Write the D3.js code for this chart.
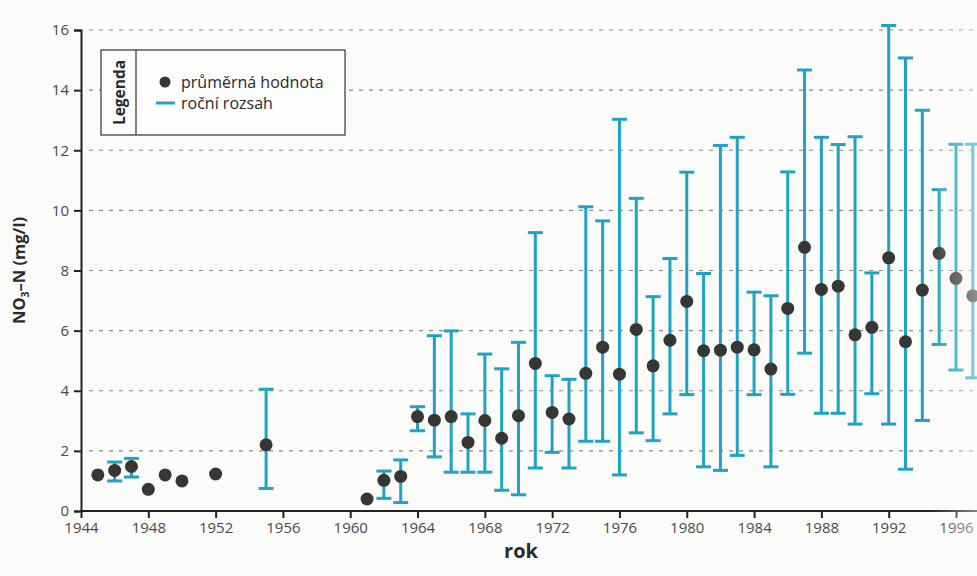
<!DOCTYPE html>
<html>
<head>
<meta charset="utf-8">
<script src="https://cdn.jsdelivr.net/npm/d3@7"></script>
<style>
  html, body { margin: 0; padding: 0; background: #fbfbfa; }
  svg { display: block; }
</style>
</head>
<body>
<svg id="chart" width="977" height="576"></svg>
<script>
// Annual mean nitrate nitrogen (NO3-N) and yearly min/max range
const meanYears = [1945, 1946, 1947, 1948, 1949, 1950, 1952, 1955, 1961, 1962, 1963,
  1964, 1965, 1966, 1967, 1968, 1969, 1970, 1971, 1972, 1973, 1974, 1975, 1976, 1977,
  1978, 1979, 1980, 1981, 1982, 1983, 1984, 1985, 1986, 1987, 1988, 1989, 1990, 1991,
  1992, 1993, 1994, 1995, 1996, 1997];
const meanValues = [1.2, 1.35, 1.48, 0.72, 1.2, 1.0, 1.23, 2.2, 0.4, 1.02, 1.15,
  3.14, 3.02, 3.14, 2.28, 3.01, 2.42, 3.17, 4.91, 3.28, 3.06, 4.58, 5.45, 4.55, 6.04,
  4.83, 5.68, 6.97, 5.33, 5.35, 5.45, 5.36, 4.72, 6.74, 8.77, 7.37, 7.48, 5.86, 6.11,
  8.42, 5.63, 7.35, 8.57, 7.74, 7.16];

const rangeYears = [1946, 1947, 1955, 1962, 1963, 1964, 1965, 1966, 1967, 1968, 1969,
  1970, 1971, 1972, 1973, 1974, 1975, 1976, 1977, 1978, 1979, 1980, 1981, 1982, 1983,
  1984, 1985, 1986, 1987, 1988, 1989, 1990, 1991, 1992, 1993, 1994, 1995, 1996, 1997];
const rangeMin = [1.0, 1.13, 0.75, 0.42, 0.28, 2.67, 1.8, 1.29, 1.29, 1.29, 0.69,
  0.54, 1.43, 1.95, 1.43, 2.32, 2.32, 1.2, 2.6, 2.34, 3.23, 3.87, 1.47, 1.35, 1.85,
  3.87, 1.47, 3.88, 5.25, 3.25, 3.25, 2.89, 3.9, 2.89, 1.39, 3.01, 5.54, 4.69, 4.43];
const rangeMax = [1.63, 1.75, 4.05, 1.33, 1.7, 3.47, 5.83, 5.99, 3.23, 5.22, 4.73,
  5.61, 9.26, 4.5, 4.38, 10.12, 9.65, 13.03, 10.4, 7.13, 8.4, 11.27, 7.9, 12.16, 12.43,
  7.28, 7.16, 11.28, 14.67, 12.43, 12.19, 12.45, 7.92, 16.15, 15.07, 13.33, 10.69, 12.2, 12.2];

const xTicks = [1944, 1948, 1952, 1956, 1960, 1964, 1968, 1972, 1976, 1980, 1984, 1988, 1992, 1996];
const yTicks = [0, 2, 4, 6, 8, 10, 12, 14, 16];

const legendItems = ["průměrná hodnota", "roční rozsah"];

const W = 977, H = 576;
const FONT = "'Open Sans', 'Noto Sans', sans-serif";
const BAR = "#1fa3c4";
const DOT = "#363636";

const svg = d3.select("#chart");

const x = d3.scaleLinear().domain([1944, 1996]).range([81, 956]);
const y = d3.scaleLinear().domain([0, 16]).range([511, 30]);

// dashed horizontal gridlines
svg.append("g")
  .selectAll("line")
  .data(yTicks.filter(d => d > 0))
  .join("line")
  .attr("x1", x(1944) + 8).attr("x2", W)
  .attr("y1", d => y(d)).attr("y2", d => y(d))
  .attr("stroke", "#8a8a8a")
  .attr("stroke-width", 1.2)
  .attr("stroke-dasharray", "4 6");

// error bars (yearly range)
const ranges = rangeYears.map((yr, i) => ({ yr, lo: rangeMin[i], hi: rangeMax[i] }));
const rg = svg.append("g")
  .attr("stroke", BAR)
  .attr("stroke-width", 3);
rg.selectAll("line.v").data(ranges).join("line").attr("class", "v")
  .attr("x1", d => x(d.yr)).attr("x2", d => x(d.yr))
  .attr("y1", d => y(d.lo)).attr("y2", d => y(d.hi));
rg.selectAll("line.top").data(ranges).join("line").attr("class", "top")
  .attr("x1", d => x(d.yr) - 7.5).attr("x2", d => x(d.yr) + 7.5)
  .attr("y1", d => y(d.hi)).attr("y2", d => y(d.hi));
rg.selectAll("line.bot").data(ranges).join("line").attr("class", "bot")
  .attr("x1", d => x(d.yr) - 7.5).attr("x2", d => x(d.yr) + 7.5)
  .attr("y1", d => y(d.lo)).attr("y2", d => y(d.lo));

// annual means
svg.append("g")
  .selectAll("circle")
  .data(meanYears.map((yr, i) => ({ yr, v: meanValues[i] })))
  .join("circle")
  .attr("cx", d => x(d.yr))
  .attr("cy", d => y(d.v))
  .attr("r", 6.5)
  .attr("fill", DOT);

// axes
const xAxis = svg.append("g")
  .attr("transform", `translate(0,${y(0)})`)
  .call(d3.axisBottom(x).tickValues(xTicks).tickFormat(d3.format("d")).tickSize(7).tickPadding(4));
xAxis.select(".domain").attr("d", `M${x(1944)},0H${W}`);

const yAxis = svg.append("g")
  .attr("transform", `translate(${x(1944)},0)`)
  .call(d3.axisLeft(y).tickValues(yTicks).tickSize(7).tickPadding(5));

[xAxis, yAxis].forEach(g => {
  g.select(".domain").attr("stroke", "#222").attr("stroke-width", 2);
  g.selectAll(".tick line").attr("stroke", "#222").attr("stroke-width", 2);
  g.selectAll(".tick text")
    .attr("font-family", FONT)
    .attr("font-size", 15)
    .attr("fill", "#4a4a4a");
});

// axis titles
svg.append("text")
  .attr("x", 521).attr("y", 558)
  .attr("text-anchor", "middle")
  .attr("font-family", FONT)
  .attr("font-weight", "bold")
  .attr("font-size", 20)
  .attr("fill", "#2a2a2a")
  .text("rok");

const yTitle = svg.append("text")
  .attr("transform", `translate(25,${y(8)}) rotate(-90)`)
  .attr("text-anchor", "middle")
  .attr("font-family", FONT)
  .attr("font-weight", "bold")
  .attr("font-size", 16.5)
  .attr("fill", "#2a2a2a");
yTitle.append("tspan").text("NO");
yTitle.append("tspan").attr("font-size", 10.5).attr("dy", 4).text("3");
yTitle.append("tspan").attr("dy", -4).text("–N (mg/l)");

// legend box
const lg = svg.append("g");
lg.append("rect")
  .attr("x", 101).attr("y", 50).attr("width", 244).attr("height", 85)
  .attr("fill", "#fdfdfc").attr("stroke", "#333").attr("stroke-width", 1.2);
lg.append("line")
  .attr("x1", 136).attr("x2", 136).attr("y1", 50).attr("y2", 135)
  .attr("stroke", "#333").attr("stroke-width", 1.2);
lg.append("text")
  .attr("transform", "translate(124.5,92.5) rotate(-90)")
  .attr("text-anchor", "middle")
  .attr("font-family", FONT)
  .attr("font-weight", "bold")
  .attr("font-size", 15.5)
  .attr("fill", "#2a2a2a")
  .text("Legenda");
lg.append("circle").attr("cx", 165).attr("cy", 82).attr("r", 5.5).attr("fill", DOT);
lg.append("line")
  .attr("x1", 156).attr("x2", 175).attr("y1", 103).attr("y2", 103)
  .attr("stroke", BAR).attr("stroke-width", 3);
lg.selectAll("text.item")
  .data(legendItems)
  .join("text").attr("class", "item")
  .attr("x", 181)
  .attr("y", (d, i) => 87.5 + i * 21)
  .attr("font-family", FONT)
  .attr("font-size", 16)
  .attr("fill", "#2a2a2a")
  .text(d => d);

// faded right page edge
const defs = svg.append("defs");
const grad = defs.append("linearGradient").attr("id", "fade").attr("x1", 0).attr("x2", 1);
grad.append("stop").attr("offset", 0).attr("stop-color", "#fbfbfa").attr("stop-opacity", 0);
grad.append("stop").attr("offset", 1).attr("stop-color", "#fbfbfa").attr("stop-opacity", 0.45);
svg.append("rect")
  .attr("x", 930).attr("y", 0).attr("width", 47).attr("height", H)
  .attr("fill", "url(#fade)");
</script>
</body>
</html>
